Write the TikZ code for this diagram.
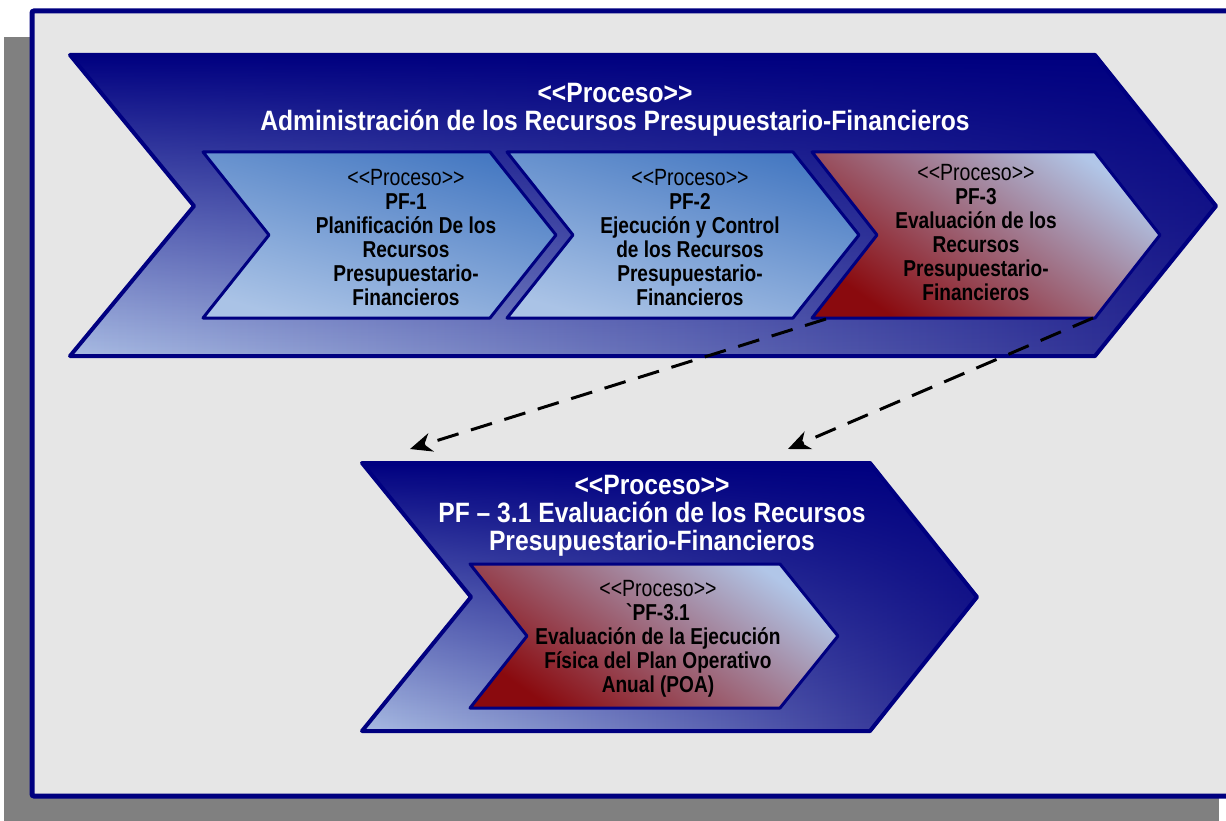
\documentclass[tikz,border=0pt]{standalone}
\usepackage{fontspec}
\setmainfont{Liberation Sans}[FakeStretch=0.83,Ligatures=TeXOff]
\newfontfamily\titlefont{Liberation Sans}[FakeStretch=0.88,Ligatures=TeXOff]
\usetikzlibrary{arrows.meta,fadings,positioning}
\definecolor{navy}{HTML}{000080}
\definecolor{panelgray}{HTML}{E6E6E6}
\definecolor{shadowgray}{HTML}{808080}
\definecolor{lavender}{HTML}{A9BCE3}
\definecolor{midnavy}{HTML}{24248E}
\definecolor{pfblue}{HTML}{4679C2}
\definecolor{pflight}{HTML}{AAC3E6}
\definecolor{evallight}{HTML}{B1C6E8}
\definecolor{evalmid}{HTML}{A78CA6}
\definecolor{evalred}{HTML}{8A0A0E}
\tikzfading[name=veil down,top color=transparent!0,bottom color=transparent!100]
\tikzset{
  outer chevron/.style={left color=lavender,right color=midnavy,
    postaction={fill=navy,path fading=veil down},
    postaction={draw=navy,line width=4pt,line join=round}},
  plan chevron/.style={draw=navy,line width=3pt,line join=round,shading=axis,
    top color=pfblue,bottom color=pflight,shading angle=-15},
  eval chevron/.style={draw=navy,line width=3pt,line join=round,shading=axis,
    top color=evallight,middle color=evalmid,bottom color=evalred,shading angle=-35},
  title text/.style={text=white,align=center,font=\titlefont\bfseries\fontsize{28}{28}\selectfont},
  box text/.style={text=black,align=center,font=\bfseries\fontsize{23}{24}\selectfont},
  trace arrow/.style={line width=3pt,dash pattern=on 22pt off 13pt,
    -{Stealth[length=22pt,width=19pt,inset=7pt]}},
}
\newcommand{\stereo}{{\mdseries\fontsize{23.5}{24}\selectfont <<Proceso>>}}
\begin{document}
\begin{tikzpicture}[x=1pt,y=-1pt]
  \useasboundingbox (0,0) rectangle (1226,821);
  % background panel
  \fill[shadowgray] (4,37) rectangle (1219,830);
  \draw[navy,line width=5pt,fill=panelgray,rounded corners=2pt] (32,11) rectangle (1240,796);
  % main process
  \path[outer chevron] (70,55) -- (1095,55) -- (1216,206) -- (1095,356)
    -- (70,356) -- (194,206) -- cycle;
  \node[title text] (adm) at (615,110) {<<Proceso>>\\Administración de los Recursos Presupuestario-Financieros};
  % sub processes
  \draw[plan chevron] (203,152) -- (490,152) -- (556,235) -- (490,318)
    -- (203,318) -- (269,235) -- cycle;
  \draw[plan chevron] (507,152) -- (793,152) -- (859,235) -- (793,318)
    -- (507,318) -- (573,235) -- cycle;
  \draw[eval chevron] (812,152) -- (1095,152) -- (1160,235) -- (1095,318)
    -- (812,318) -- (877,235) -- cycle;
  \node[box text] (pf1) at (406,238) {\stereo\\PF-1\\Planificación De los\\Recursos\\Presupuestario-\\Financieros};
  \node[box text] (pf2) at (690,238) {\stereo\\PF-2\\Ejecución y Control\\de los Recursos\\Presupuestario-\\Financieros};
  \node[box text] (pf3) at (976,233) {\stereo\\PF-3\\Evaluación de los\\Recursos\\Presupuestario-\\Financieros};
  % detail of PF-3
  \path[outer chevron] (362,463) -- (870,463) -- (977,597) -- (870,731)
    -- (362,731) -- (471,597) -- cycle;
  \node[title text] (pf31) at (652,516) {<<Proceso>>\\PF – 3.1 Evaluación de los Recursos\\Presupuestario-Financieros};
  \draw[eval chevron] (470,564) -- (780,564) -- (838,636) -- (780,708)
    -- (470,708) -- (527,636) -- cycle;
  \node[box text] (poa) at (658,639) {\stereo\\`PF-3.1\\Evaluación de la Ejecución\\Física del Plan Operativo\\Anual (POA)};
  % refinement links
  \coordinate (pf3 left) at (826,319);
  \coordinate (pf3 right) at (1093,318);
  \coordinate (pf31 left) at (410,449);
  \coordinate (pf31 right) at (788,449);
  \draw[trace arrow] (pf3 left) -- (pf31 left);
  \draw[trace arrow] (pf3 right) -- (pf31 right);
\end{tikzpicture}
\end{document}
